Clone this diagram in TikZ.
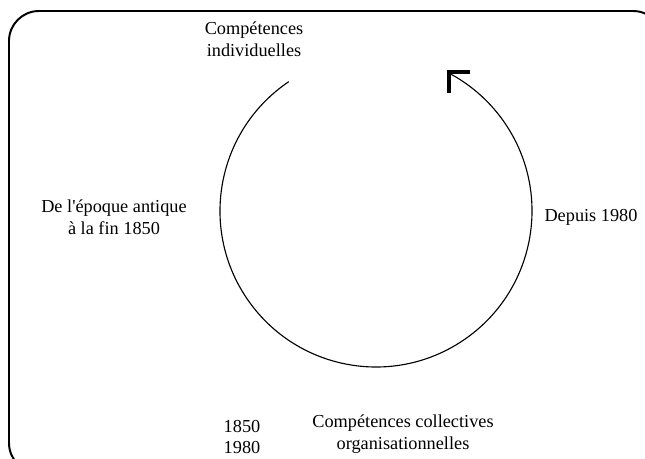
\documentclass[tikz,border=0pt]{standalone}
\usepackage{fontspec}
\setmainfont{Liberation Serif}
\usetikzlibrary{arrows.meta, positioning}

\begin{document}
\begin{tikzpicture}[
  x=0.025cm, y=0.025cm,
  cadre/.style={draw=black, line width=1.4pt, rounded corners=0.75cm},
  boucle/.style={draw=black, line width=0.8pt},
  fleche/.style={-{Straight Barb[angle=90:15pt, line width=2.8pt]}},
  lbl/.style={font=\fontsize{13}{15.6}\selectfont, inner sep=0pt, align=center}
]

%% ── Cadre ──────────────────────────────────────────────────────────────────
\useasboundingbox (0,0) rectangle (645,459);
\draw[cadre] (9,-14) rectangle (663,448);

%% ── Cycle (arc avec flèche) ────────────────────────────────────────────────
\coordinate (centre) at (376,248);
\coordinate (debut)  at ([shift={(124:156)}]centre);
\draw[boucle, fleche] (debut) arc[start angle=124, end angle=421, radius=156]
  -- ++(135:6);

%% ── Étiquettes ─────────────────────────────────────────────────────────────
\node[lbl] (indiv)   at (254,420) {Compétences\\individuelles};
\node[lbl] (antique) at (114,242) {De l\textquotesingle époque antique\\à la fin 1850};
\node[lbl] (depuis)  at (591,242) {Depuis 1980};
\node[lbl] (dates)   at (242,22)  {1850\\1980};
\node[lbl] (collect) at (403,25)  {Compétences collectives\\organisationnelles};

\end{tikzpicture}
\end{document}
